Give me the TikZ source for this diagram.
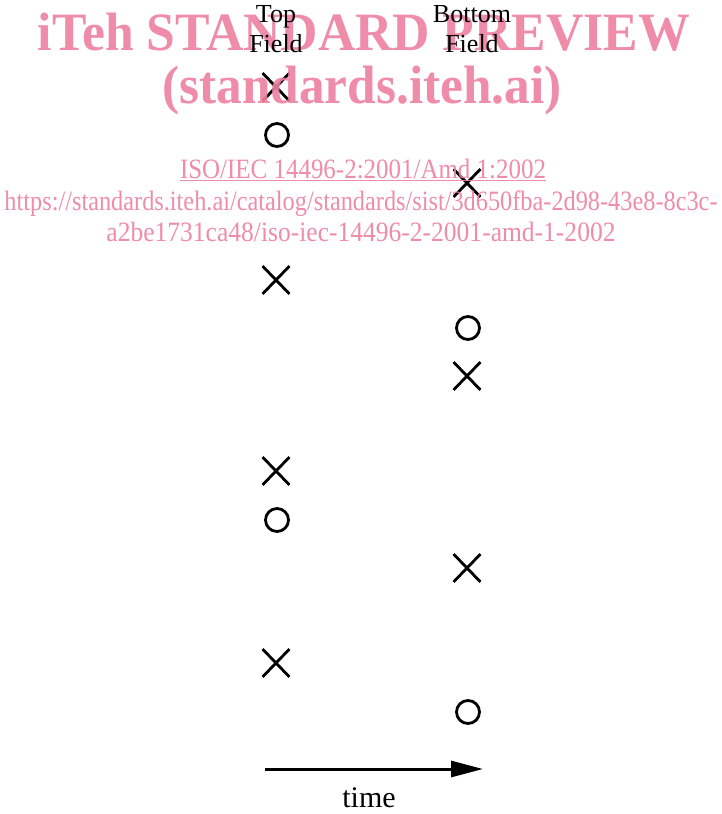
\documentclass[tikz,border=0pt]{standalone}
\usepackage{fontspec}
\setmainfont{Liberation Serif}
\usepackage{xcolor}
\usepackage{graphicx}
\usetikzlibrary{arrows.meta, shapes.misc}
\definecolor{encre}{HTML}{000000}
\definecolor{rose}{HTML}{EC7FA0}
\tikzset{
  croix/.style={cross out, draw=encre, line width=2.8pt, minimum width=24pt,
    minimum height=25pt, inner sep=0pt},
  rond/.style={circle, draw=encre, line width=2.8pt, minimum size=23pt, inner sep=0pt},
  entete/.style={font=\fontsize{26}{30}\selectfont, align=center, inner sep=0pt},
  fleche/.style={-{Triangle[length=32pt, width=16pt]}, line width=3pt, color=encre},
  etiquette/.style={font=\fontsize{30}{36}\selectfont, anchor=base, inner sep=0pt},
  filigrane/.style={text=rose, inner sep=0pt, anchor=base, opacity=0.9}
}

\begin{document}
\begin{tikzpicture}[x=1pt, y=-1pt]
  \useasboundingbox (0,0) rectangle (722,814);

  % trame du haut
  \node[croix] (h1) at (276,87) {};
  \node[rond] (h2) at (277,135) {};
  \node[croix] (h3) at (276,280) {};
  \node[croix] (h4) at (276,471) {};
  \node[rond] (h5) at (277,520) {};
  \node[croix] (h6) at (276,663) {};

  % trame du bas
  \node[croix] (b1) at (467,183) {};
  \node[rond] (b2) at (468,328) {};
  \node[croix] (b3) at (467,376) {};
  \node[croix] (b4) at (467,568) {};
  \node[rond] (b5) at (468,712) {};

  \coordinate (debut) at (265,769);
  \coordinate (fin) at (483,769);
  \draw[fleche] (debut) -- (fin);
  \node[etiquette] (temps) at (369,807) {time};

  % filigrane
  \node[filigrane, font=\fontsize{54}{60}\bfseries] (wm1) at (364,50)
    {\resizebox{652pt}{\height}{iTeh STANDARD PREVIEW}};
  \node[filigrane, font=\fontsize{54}{60}\bfseries] (wm2) at (362,103)
    {\resizebox{399pt}{\height}{(standards.iteh.ai)}};
  \node[filigrane, font=\fontsize{28}{30}\selectfont] (wm3) at (363,178)
    {\resizebox{366pt}{\height}{\underline{ISO/IEC 14496-2:2001/Amd 1:2002}}};
  \node[filigrane, font=\fontsize{28}{30}\selectfont] (wm4) at (361,210)
    {\resizebox{713pt}{\height}{https://standards.iteh.ai/catalog/standards/sist/3d650fba-2d98-43e8-8c3c-}};
  \node[filigrane, font=\fontsize{28}{30}\selectfont] (wm5) at (361,241)
    {\resizebox{509pt}{\height}{a2be1731ca48/iso-iec-14496-2-2001-amd-1-2002}};

  \node[entete] (haut) at (276,29) {Top\\Field};
  \node[entete] (bas) at (472,29) {Bottom\\Field};
\end{tikzpicture}
\end{document}
